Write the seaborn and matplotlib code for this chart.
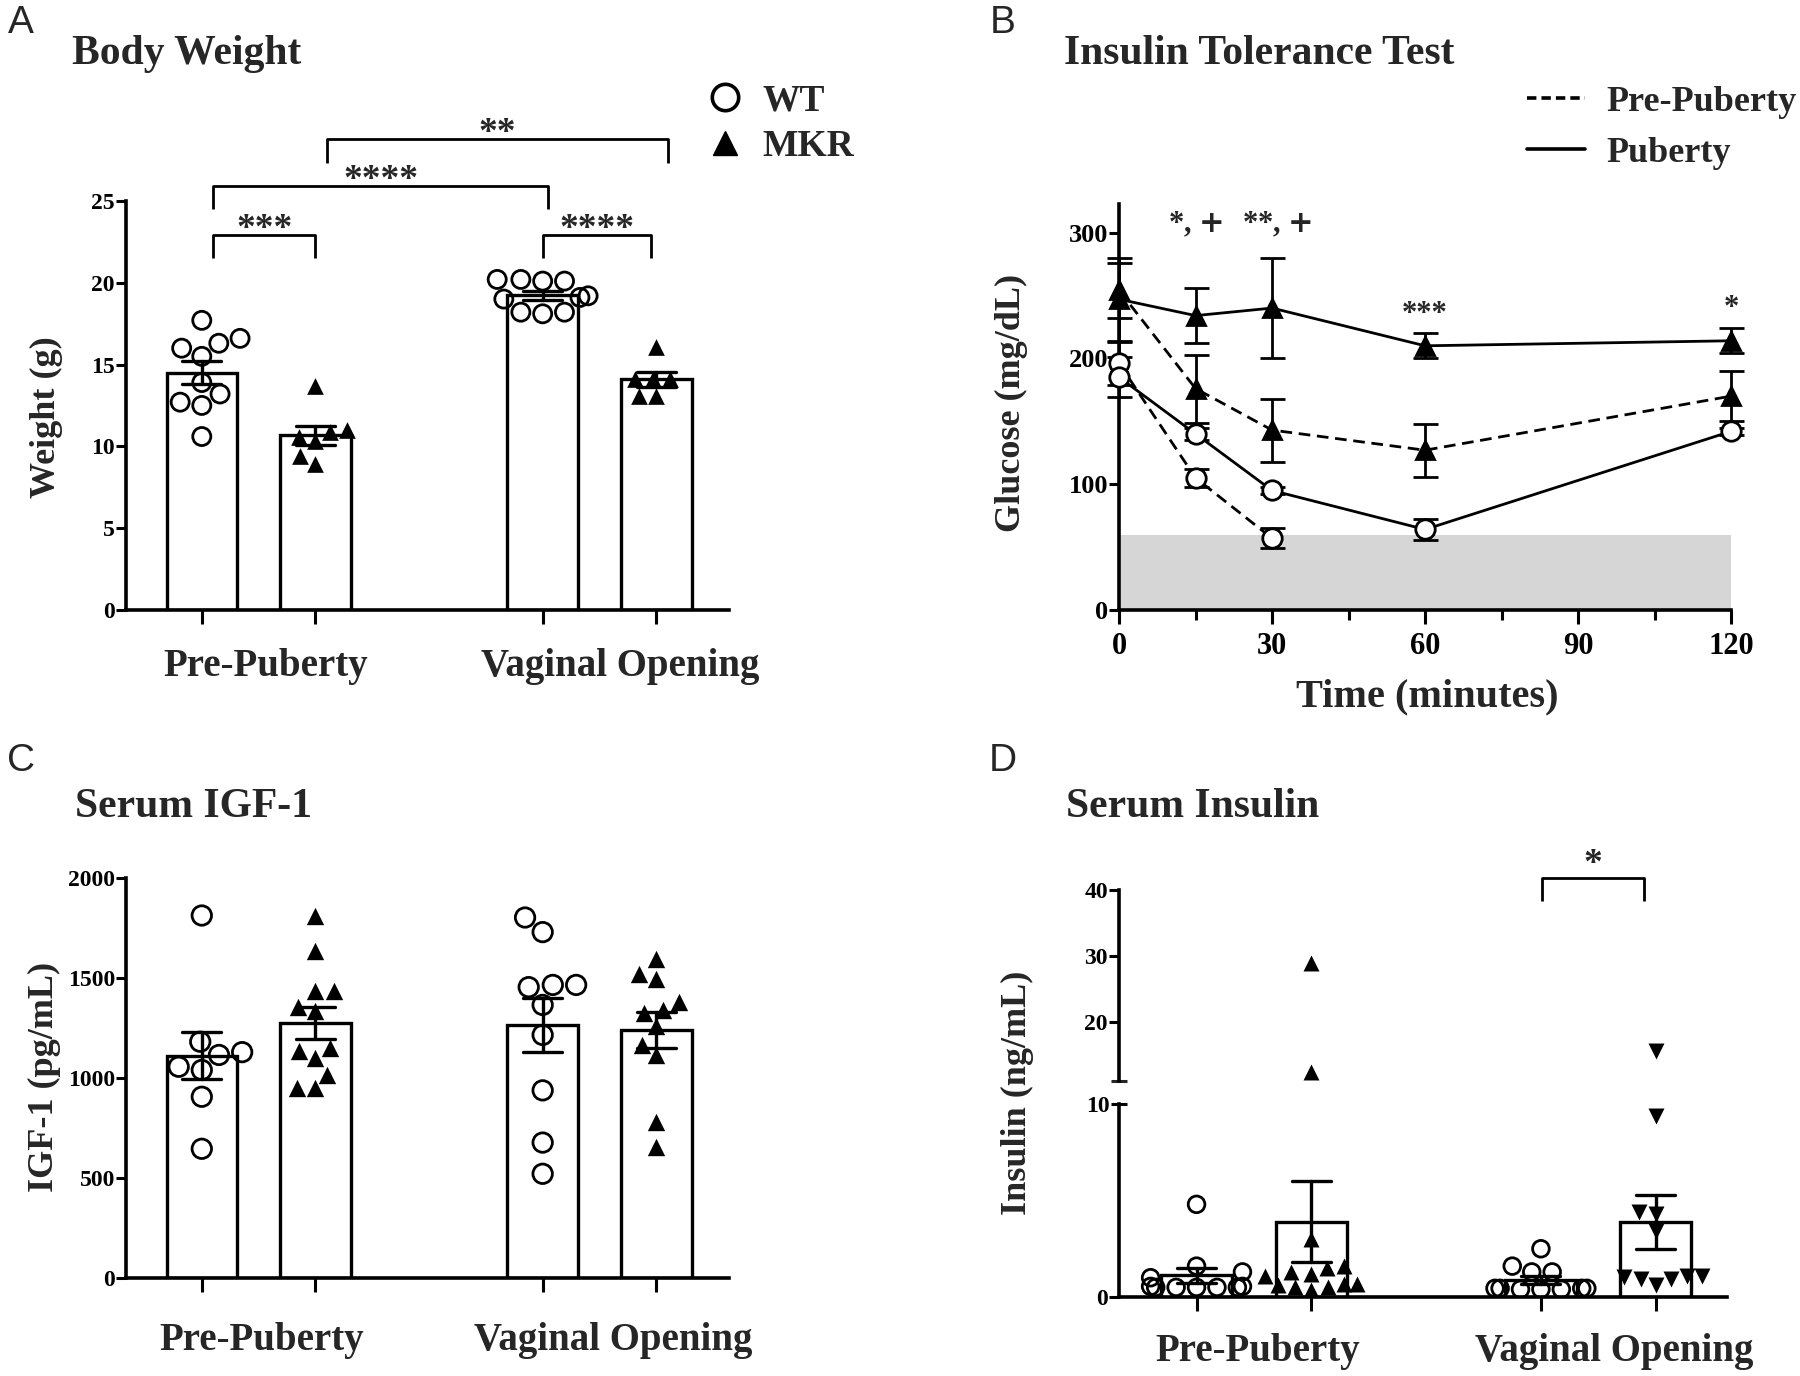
import matplotlib
matplotlib.use("Agg")
import matplotlib.pyplot as plt
import pandas as pd
import seaborn as sns
from matplotlib.lines import Line2D


GROUPS = ["Pre-Puberty", "Vaginal Opening"]
GENOTYPES = ["WT", "MKR"]

# A: body weight (g), one value per animal
WEIGHT_PRE_WT = [17.7, 16.3, 16.6, 16.0, 15.5, 13.9, 13.2, 12.5, 12.7, 10.6]
WEIGHT_PRE_MKR = [13.7, 10.3, 11.0, 10.6, 10.9, 8.9, 9.4]
WEIGHT_VO_WT = [20.1, 20.2, 20.1, 20.2, 19.1, 19.0, 19.2, 18.2, 18.1, 18.2]
WEIGHT_VO_MKR = [16.1, 14.1, 14.1, 14.1, 13.1, 13.1]

# B: insulin tolerance test, glucose mean and SEM (mg/dL)
ITT_TIME = [0, 15, 30, 60, 120]
ITT_WT_PRE = [196, 105, 57]
ITT_WT_PRE_SEM = [17, 7, 8]
ITT_WT_PUB = [185, 140, 95, 64, 142]
ITT_WT_PUB_SEM = [16, 5, 3, 8, 3]
ITT_MKR_PRE = [254, 176, 143, 127, 170]
ITT_MKR_PRE_SEM = [22, 27, 25, 21, 20]
ITT_MKR_PUB = [247, 234, 240, 210, 214]
ITT_MKR_PUB_SEM = [33, 22, 40, 10, 10]
HYPOGLYCEMIA = 60
ITT_MARKS = [(15, r"*, $\mathbf{+}$"), (31, r"**, $\mathbf{+}$"), (60, "***"), (120, "*")]
ITT_MARK_Y = [300, 300, 229, 234]

# C: serum IGF-1 (pg/mL)
IGF_PRE_WT = [1812, 1181, 1115, 1129, 1056, 1040, 906, 646]
IGF_PRE_MKR = [1812, 1635, 1437, 1437, 1354, 1333, 1152, 1135, 1100, 1014, 948, 948]
IGF_VO_WT = [1729, 1802, 1465, 1454, 1465, 1365, 1215, 938, 677, 521]
IGF_VO_MKR = [1594, 1521, 1494, 1381, 1323, 1340, 1260, 1167, 1115, 781, 656]

# D: serum insulin (ng/mL)
INS_PRE_WT = [4.8, 1.6, 1.3, 1.0, 0.5, 0.5, 0.5, 0.55, 0.5, 0.55, 0.5]
INS_PRE_MKR = [29.0, 12.4, 3.0, 1.3, 1.2, 1.1, 1.6, 1.5, 0.7, 0.7, 0.6, 0.5, 0.35, 0.5]
INS_VO_WT = [2.5, 1.6, 1.3, 1.3, 0.45, 0.45, 0.4, 0.45, 0.45, 0.4, 0.4]
INS_VO_MKR = [15.5, 9.4, 4.4, 4.3, 3.4, 1.05, 1.1, 0.95, 1.1, 0.95, 0.6]
INS_BREAK = (10, 11)

SERIF = ["Liberation Serif", "DejaVu Serif"]
SANS = ["Liberation Sans", "DejaVu Sans"]

BAR_ORDER = ["Pre-Puberty WT", "Pre-Puberty MKR", "spacer",
             "Vaginal Opening WT", "Vaginal Opening MKR"]
PRE_DASH = (0, (4.2, 2.4))


def long_frame(pre_wt, pre_mkr, vo_wt, vo_mkr):
    rows = []
    series = {("Pre-Puberty", "WT"): pre_wt, ("Pre-Puberty", "MKR"): pre_mkr,
              ("Vaginal Opening", "WT"): vo_wt, ("Vaginal Opening", "MKR"): vo_mkr}
    for (group, genotype), values in series.items():
        for v in values:
            rows.append({"bar": f"{group} {genotype}", "group": group,
                         "genotype": genotype, "value": v})
    return pd.DataFrame(rows)


def style_axis(ax, labelsize):
    for side in ["top", "right"]:
        ax.spines[side].set_visible(False)
    for side in ["left", "bottom"]:
        ax.spines[side].set_linewidth(2.6)
        ax.spines[side].set_color("black")
    ax.tick_params(axis="y", which="major", direction="out", length=7, width=2.2,
                   labelsize=labelsize, colors="black", pad=1)
    ax.tick_params(axis="x", which="major", direction="out", length=10, width=2.2,
                   labelsize=labelsize, colors="black")
    ax.set_xlabel("")
    ax.set_ylabel("")
    ax.set_facecolor("white")


def draw_bars(ax, frame):
    sns.barplot(data=frame, x="bar", y="value", order=BAR_ORDER, errorbar="se",
                width=0.62, color="white", edgecolor="black", linewidth=2.4,
                capsize=0.34, err_kws={"color": "black", "linewidth": 2.4}, ax=ax)


def draw_points(ax, frame, markers, sizes):
    for bar, marker in markers.items():
        sub = frame[frame["bar"] == bar]
        genotype = sub["genotype"].iloc[0]
        n0 = len(ax.collections)
        sns.swarmplot(data=sub, x="bar", y="value", order=BAR_ORDER, marker=marker,
                      size=sizes[genotype], color="black", edgecolor="black",
                      linewidth=2.0 if genotype == "WT" else 0, warn_thresh=1,
                      ax=ax, zorder=5)
        if genotype == "WT":
            for coll in ax.collections[n0:]:
                coll.set_facecolor("none")


def finish_bar_axis(ax, xlim, label_y, label_x):
    ax.set_xlim(*xlim)
    ax.set_xticks([BAR_ORDER.index(b) for b in BAR_ORDER if b != "spacer"])
    ax.set_xticklabels([])
    for x, name in zip(label_x, GROUPS):
        ax.text(x, label_y, name, transform=ax.get_xaxis_transform(), ha="center",
                va="center", fontsize=28, fontweight="bold", family=SERIF)


def bracket(ax, x1, x2, top, drop, label, size, pad):
    ax.plot([x1, x1, x2, x2], [drop, top, top, drop], color="black", lw=2.0,
            clip_on=False, solid_capstyle="butt")
    ax.annotate(label, xy=((x1 + x2) / 2, top), xytext=(0, pad), textcoords="offset points",
                ha="center", va="baseline", fontsize=size, fontweight="bold",
                family=SERIF, annotation_clip=False)


sns.set_theme(style="ticks")
plt.rcParams["font.family"] = SERIF
plt.rcParams["font.weight"] = "bold"
plt.rcParams["axes.edgecolor"] = "black"

fig = plt.figure(figsize=(18, 13.76), dpi=100)
fig.patch.set_facecolor("white")

ax_a = fig.add_axes([0.070, 0.5567, 0.335, 0.2973])
ax_b = fig.add_axes([0.6217, 0.5567, 0.34, 0.2953])
ax_c = fig.add_axes([0.070, 0.0712, 0.335, 0.2908])
ax_d_top = fig.add_axes([0.6217, 0.2144, 0.338, 0.1386])
ax_d = fig.add_axes([0.6217, 0.0574, 0.338, 0.1403])

# ---- A: body weight
weight = long_frame(WEIGHT_PRE_WT, WEIGHT_PRE_MKR, WEIGHT_VO_WT, WEIGHT_VO_MKR)
draw_bars(ax_a, weight)
draw_points(ax_a, weight, {b: ("o" if "WT" in b else "^") for b in BAR_ORDER if b != "spacer"},
            {"WT": 13, "MKR": 12})
style_axis(ax_a, 17)
ax_a.set_ylim(0, 25)
ax_a.set_yticks([0, 5, 10, 15, 20, 25])
finish_bar_axis(ax_a, (-0.667, 4.64), -0.137, [0.56, 3.68])
bracket(ax_a, 0.1, 1.0, 22.9, 21.5, "***", 27, -3)
bracket(ax_a, 0.1, 3.05, 25.9, 24.5, "****", 27, -3)
bracket(ax_a, 1.1, 4.1, 28.8, 27.3, "**", 27, -3)
bracket(ax_a, 3.0, 3.95, 22.9, 21.5, "****", 27, -3)

legend_a = [Line2D([], [], ls="", marker="o", ms=19, mfc="none", mec="black", mew=2.6),
            Line2D([], [], ls="", marker="^", ms=17, mfc="black", mec="black")]
fig.legend(legend_a, GENOTYPES, loc="upper left", bbox_to_anchor=(0.382, 0.953),
           frameon=False, handlelength=1.0, handletextpad=0.5, labelspacing=0.28,
           borderpad=0, prop={"family": SERIF, "weight": "bold", "size": 27})

# ---- B: insulin tolerance test
ax_b.axhspan(0, HYPOGLYCEMIA, color="#d6d6d6", lw=0, zorder=0)
itt_series = [
    (ITT_WT_PRE, ITT_WT_PRE_SEM, "o", PRE_DASH),
    (ITT_WT_PUB, ITT_WT_PUB_SEM, "o", "-"),
    (ITT_MKR_PRE, ITT_MKR_PRE_SEM, "^", PRE_DASH),
    (ITT_MKR_PUB, ITT_MKR_PUB_SEM, "^", "-"),
]
for means, sems, marker, dash in itt_series:
    times = ITT_TIME[:len(means)]
    ax_b.errorbar(times, means, yerr=sems, fmt="none", ecolor="black", elinewidth=2.0,
                  capsize=9, capthick=2.0, zorder=3, clip_on=False)
    sns.lineplot(x=times, y=means, ax=ax_b, color="black", linewidth=2.0, linestyle=dash,
                 marker=marker, markersize=14 if marker == "o" else 13,
                 mfc="white" if marker == "o" else "black", mec="black", mew=2.0,
                 errorbar=None, zorder=4, clip_on=False)
style_axis(ax_b, 19)
ax_b.set_xlim(0, 120)
ax_b.set_ylim(0, 323)
ax_b.set_yticks([0, 100, 200, 300])
ax_b.set_xticks([0, 30, 60, 90, 120])
ax_b.set_xticks([15, 45, 75, 105], minor=True)
ax_b.tick_params(axis="x", which="major", labelsize=22, length=10, pad=6)
ax_b.tick_params(axis="x", which="minor", length=7, width=2.2, color="black")
for (t, mark), y in zip(ITT_MARKS, ITT_MARK_Y):
    ax_b.text(t, y, mark, ha="center", va="baseline", fontsize=22, fontweight="bold", family=SERIF)
legend_b = [Line2D([], [], color="black", lw=2.6, ls=(0, (2.6, 1.4))),
            Line2D([], [], color="black", lw=2.6, ls="-")]
fig.legend(legend_b, ["Pre-Puberty", "Puberty"], loc="upper left", bbox_to_anchor=(0.8385, 0.951),
           frameon=False, handlelength=1.6, handletextpad=0.6, labelspacing=0.5,
           borderpad=0, prop={"family": SERIF, "weight": "bold", "size": 26})
fig.text(0.793, 0.4935, "Time (minutes)", ha="center", va="center", fontsize=29,
         fontweight="bold", family=SERIF)

# ---- C: serum IGF-1
igf = long_frame(IGF_PRE_WT, IGF_PRE_MKR, IGF_VO_WT, IGF_VO_MKR)
draw_bars(ax_c, igf)
draw_points(ax_c, igf, {b: ("o" if "WT" in b else "^") for b in BAR_ORDER if b != "spacer"},
            {"WT": 14, "MKR": 12.5})
style_axis(ax_c, 17)
ax_c.set_ylim(0, 2000)
ax_c.set_yticks([0, 500, 1000, 1500, 2000])
finish_bar_axis(ax_c, (-0.667, 4.64), -0.155, [0.53, 3.62])

# ---- D: serum insulin, broken y axis
insulin = long_frame(INS_PRE_WT, INS_PRE_MKR, INS_VO_WT, INS_VO_MKR)
d_markers = {"Pre-Puberty WT": "o", "Pre-Puberty MKR": "^",
             "Vaginal Opening WT": "o", "Vaginal Opening MKR": "v"}
draw_bars(ax_d, insulin)
draw_points(ax_d, insulin, d_markers, {"WT": 12, "MKR": 11.5})
style_axis(ax_d, 17)
ax_d.set_ylim(0, INS_BREAK[0])
ax_d.set_yticks([0])
ax_d.set_yticks([INS_BREAK[0]], labels=[str(INS_BREAK[0])], minor=True)
ax_d.tick_params(axis="y", which="minor", direction="inout", length=12, width=2.2,
                 labelsize=17, colors="black", pad=1)
finish_bar_axis(ax_d, (-0.675, 4.625), -0.28, [0.535, 3.64])

draw_points(ax_d_top, insulin, d_markers, {"WT": 12, "MKR": 11.5})
style_axis(ax_d_top, 17)
ax_d_top.spines["bottom"].set_visible(False)
ax_d_top.set_xlim(-0.675, 4.625)
ax_d_top.set_xticks([])
ax_d_top.set_ylim(INS_BREAK[1], 40)
ax_d_top.set_yticks([20, 30, 40])
ax_d_top.set_yticks([INS_BREAK[1]], labels=[""], minor=True)
ax_d_top.tick_params(axis="y", which="minor", direction="inout", length=12, width=2.2)
bracket(ax_d_top, 3.01, 3.9, 41.9, 38.3, "*", 27, 3)

# ---- panel letters, titles, axis titles
for x, y, letter in [(0.0115, 0.983, "A"), (0.557, 0.983, "B"),
                     (0.0115, 0.447, "C"), (0.557, 0.447, "D")]:
    fig.text(x, y, letter, ha="center", va="center", fontsize=28, fontweight="normal", family=SANS)
for x, y, title in [(0.040, 0.961, "Body Weight"), (0.591, 0.961, "Insulin Tolerance Test"),
                    (0.0415, 0.4135, "Serum IGF-1"), (0.592, 0.4135, "Serum Insulin")]:
    fig.text(x, y, title, ha="left", va="center", fontsize=30, fontweight="bold", family=SERIF)
for x, y, label in [(0.0256, 0.697, "Weight (g)"), (0.562, 0.707, "Glucose (mg/dL)"),
                    (0.0245, 0.217, "IGF-1 (pg/mL)"), (0.565, 0.206, "Insulin (ng/mL)")]:
    fig.text(x, y, label, ha="center", va="center", rotation=90, fontsize=26,
             fontweight="bold", family=SERIF)

fig.savefig("out.png", dpi=100, facecolor="white")
